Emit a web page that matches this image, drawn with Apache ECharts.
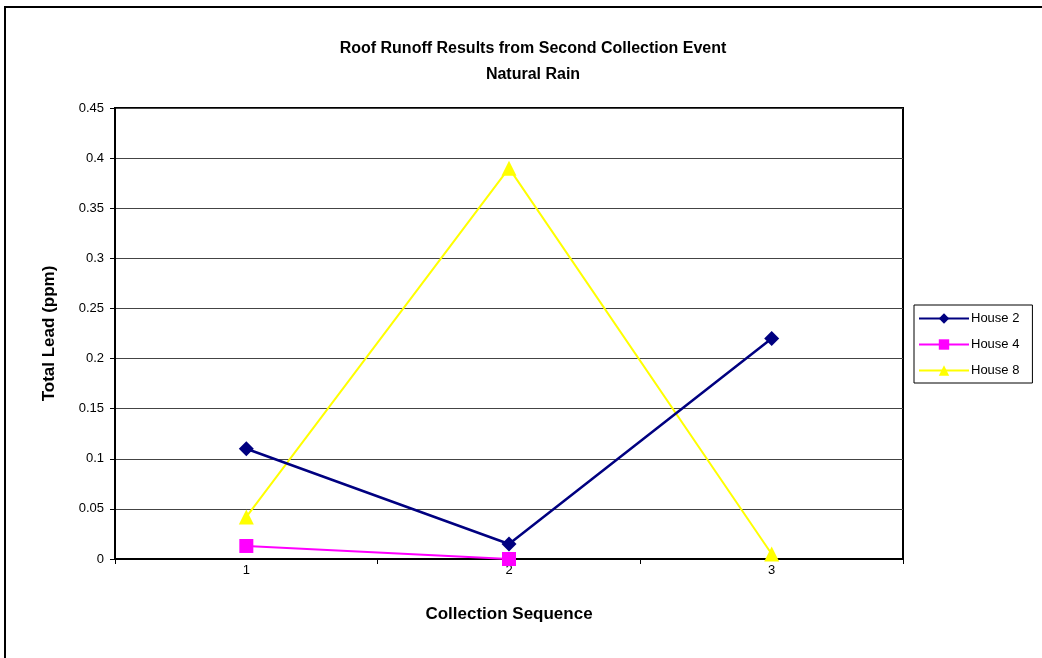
<!DOCTYPE html>
<html>
<head>
<meta charset="utf-8">
<script src="https://cdn.jsdelivr.net/npm/echarts@6/dist/echarts.min.js"></script>
<style>
  html, body { margin: 0; padding: 0; background: #fff; }
  #chart { width: 1042px; height: 658px; }
</style>
</head>
<body>
<div id="chart"></div>
<script>
  // values
  var categories = ['1', '2', '3'];
  var house2 = [0.11, 0.015, 0.22];
  var house4 = [0.013, 0, '-'];
  var house8 = [0.042, 0.39, 0.005];

  var font = 'Arial, "Liberation Sans", sans-serif';
  var chart = echarts.init(document.getElementById('chart'));

  var option = {
    backgroundColor: '#fff',
    animation: false,
    title: {
      text: 'Roof Runoff Results from Second Collection Event\nNatural Rain',
      left: 528,
      top: 31,
      textAlign: 'center',
      textStyle: { fontFamily: font, fontSize: 16, fontWeight: 'bold', color: '#000', lineHeight: 26 }
    },
    graphic: [{
      type: 'rect',
      shape: { x: 5, y: 7, width: 1100, height: 1000 },
      style: { fill: 'none', stroke: '#000', lineWidth: 2 },
      silent: true
    }],
    legend: {
      orient: 'vertical',
      left: 914,
      top: 305,
      width: 119,
      padding: [7, 13, 6, 4],
      itemWidth: 50,
      itemHeight: 13,
      itemGap: 13,
      borderColor: '#000',
      borderWidth: 1,
      textStyle: { fontFamily: font, fontSize: 13, color: '#000', padding: [0, 0, 0, -3] },
      data: ['House 2', 'House 4', 'House 8']
    },
    grid: {
      left: 115,
      top: 108,
      right: 139,
      bottom: 99,
      show: true,
      borderColor: '#000',
      borderWidth: 2
    },
    xAxis: {
      type: 'category',
      data: categories,
      boundaryGap: true,
      name: 'Collection Sequence',
      nameLocation: 'middle',
      nameGap: 47,
      nameTextStyle: { fontFamily: font, fontSize: 17, fontWeight: 'bold', color: '#000' },
      axisLine: { lineStyle: { color: '#000', width: 2 } },
      axisTick: { show: true, length: 5, lineStyle: { color: '#000' } },
      axisLabel: { fontFamily: font, fontSize: 13, color: '#000', margin: 5 },
      splitLine: { show: false }
    },
    yAxis: {
      type: 'value',
      min: 0,
      max: 0.45,
      interval: 0.05,
      name: 'Total Lead (ppm)',
      nameLocation: 'middle',
      nameGap: 57,
      nameTextStyle: { fontFamily: font, fontSize: 17, fontWeight: 'bold', color: '#000' },
      axisLine: { show: true, lineStyle: { color: '#000', width: 2 } },
      axisTick: { show: true, length: 5, lineStyle: { color: '#000' } },
      axisLabel: { fontFamily: font, fontSize: 13, color: '#000', margin: 11 },
      splitLine: { show: true, lineStyle: { color: '#444', width: 1 } }
    },
    series: [
      {
        name: 'House 2',
        type: 'line',
        data: house2,
        symbol: 'diamond',
        symbolSize: 15,
        color: '#000080',
        lineStyle: { width: 2.5, color: '#000080' },
        itemStyle: { color: '#000080' },
        z: 4
      },
      {
        name: 'House 4',
        type: 'line',
        data: house4,
        symbol: 'rect',
        symbolSize: 14,
        color: '#ff00ff',
        lineStyle: { width: 2, color: '#ff00ff' },
        itemStyle: { color: '#ff00ff' },
        z: 3
      },
      {
        name: 'House 8',
        type: 'line',
        data: house8,
        symbol: 'triangle',
        symbolSize: 15,
        color: '#ffff00',
        lineStyle: { width: 2, color: '#ffff00' },
        itemStyle: { color: '#ffff00' },
        z: 2
      }
    ]
  };

  chart.setOption(option);
</script>
</body>
</html>
